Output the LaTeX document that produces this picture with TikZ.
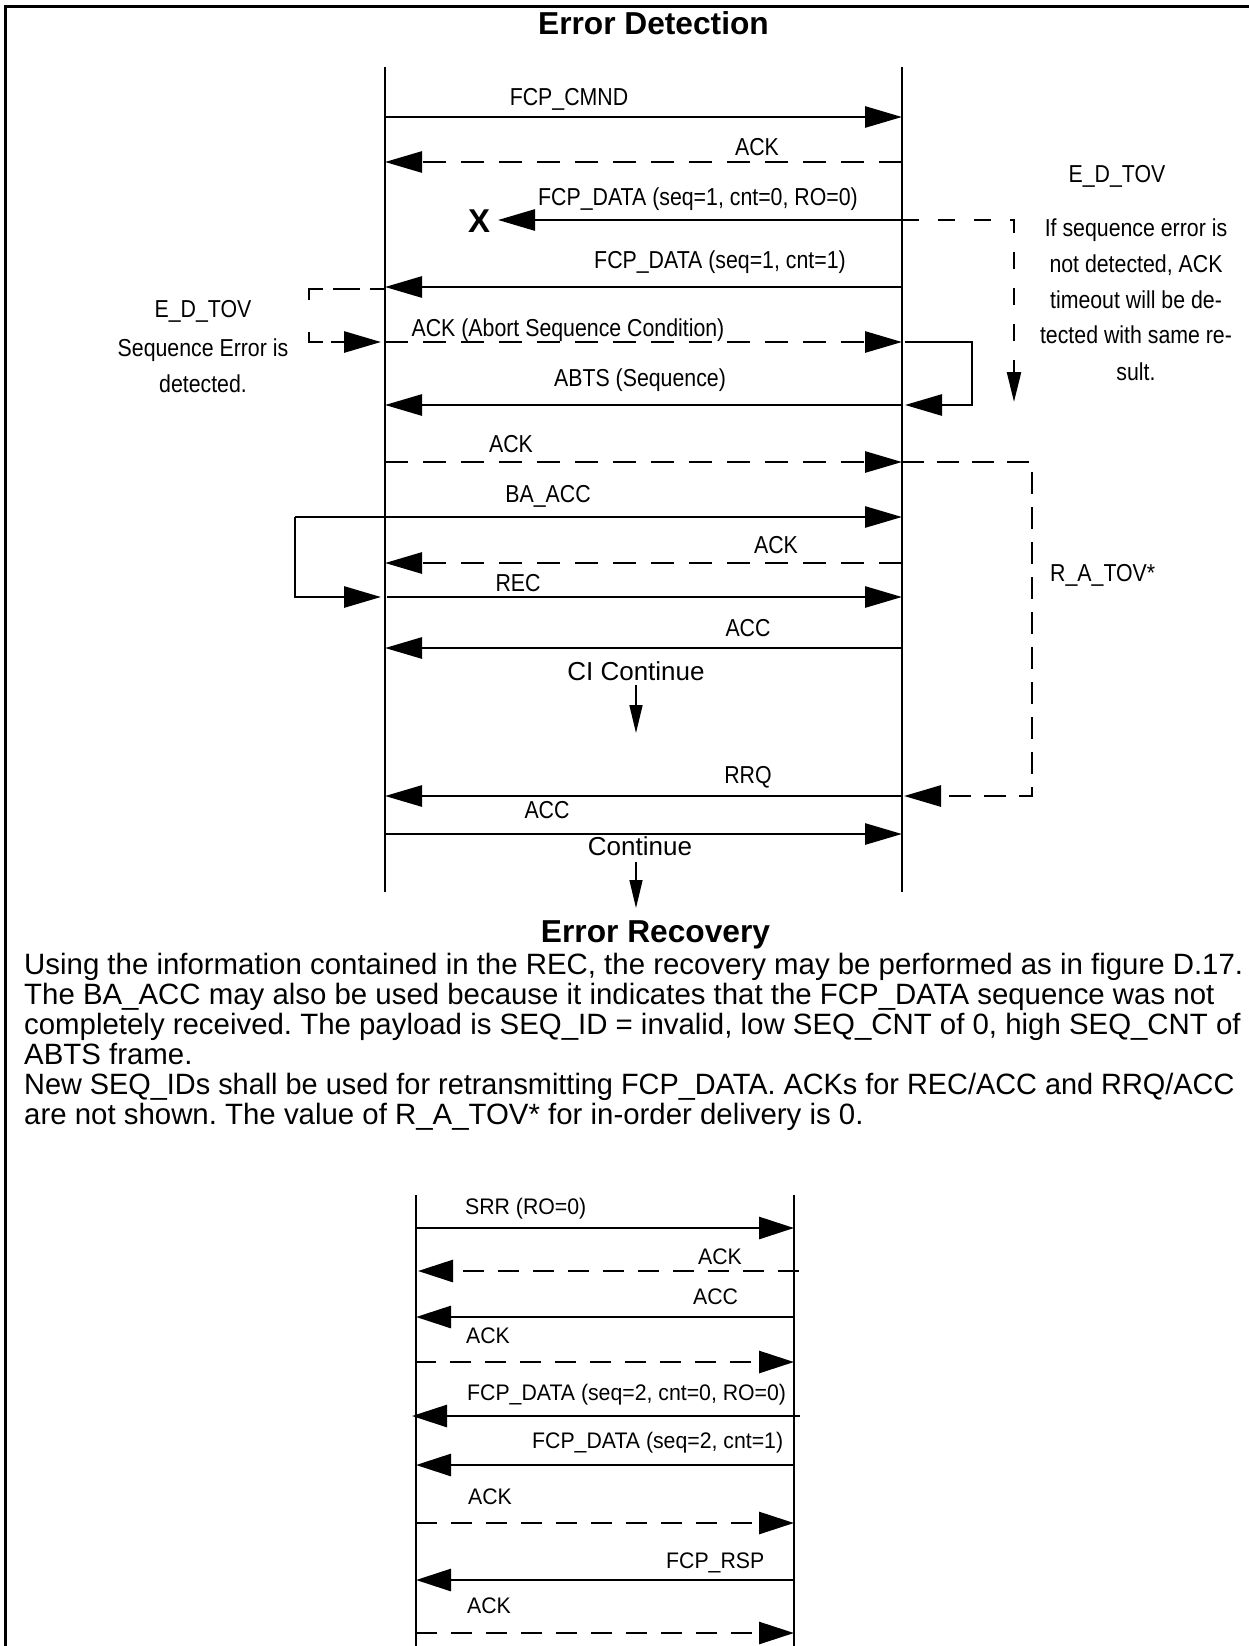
\documentclass[tikz,border=0pt]{standalone}
\usepackage{fontspec}
\setmainfont{Liberation Sans}
\newfontfamily\topfont[FakeStretch=0.87]{Liberation Sans}
\newfontfamily\lowfont[FakeStretch=0.945]{Liberation Sans}
\usetikzlibrary{arrows.meta}
\begin{document}
\frenchspacing
\begin{tikzpicture}[x=1pt,y=-1pt,
  lifeline/.style={line width=2pt},
  lifelinelow/.style={line width=2.8pt},
  msg/.style={line width=2.8pt,-{Triangle[length=37pt,width=21pt]}},
  dmsg/.style={msg,dash pattern=on 23pt off 15pt},
  loopmsg/.style={line width=2.8pt,line join=miter,-{Triangle[length=37pt,width=21pt]}},
  tmo/.style={line width=2.4pt,dash pattern=on 17pt off 19pt,-{Triangle[length=30pt,width=14pt]}},
  cont/.style={line width=1.5pt,-{Triangle[length=28pt,width=13pt]}},
  lmsg/.style={line width=2.8pt,-{Triangle[length=35pt,width=22pt]}},
  ldmsg/.style={lmsg,dash pattern=on 21pt off 14pt},
  lbl/.style={font=\topfont\fontsize{24.5}{29}\selectfont,inner sep=0pt,anchor=base},
  llbl/.style={font=\lowfont\fontsize{22.5}{27}\selectfont,inner sep=0pt,anchor=base west},
  ttl/.style={font=\bfseries\fontsize{31.7}{36}\selectfont,inner sep=0pt,anchor=base},
  para/.style={font=\fontsize{29.4}{30}\selectfont,inner sep=0pt,anchor=base west},
  contlbl/.style={font=\fontsize{26}{30}\selectfont,inner sep=0pt,anchor=base}]
\useasboundingbox (0,0) rectangle (1249,1646);
% frame
\coordinate (F0) at (5.3,1646);
\coordinate (F1) at (5.3,6.2);
\coordinate (F2) at (1249,6.2);
\draw[line width=2.7pt] (F0) -- (F1) -- (F2);

% titles
\node[ttl] (t1) at (653.5,35) {Error Detection};
\node[ttl] (t2) at (655.5,942) {Error Recovery};

% lifelines top
\coordinate (A0) at (385,67); \coordinate (A1) at (385,892);
\coordinate (B0) at (902,67); \coordinate (B1) at (902,892);
\draw[lifeline] (A0) -- (A1);
\draw[lifeline] (B0) -- (B1);

% message endpoints
\coordinate (a1) at (385,117); \coordinate (b1) at (902,117);
\coordinate (a2) at (385,162); \coordinate (b2) at (902,162);
\coordinate (x3) at (498,220); \coordinate (b3) at (902,220);
\coordinate (a4) at (385,287); \coordinate (b4) at (902,287);
\coordinate (a5) at (385,342); \coordinate (b5) at (902,342);
\coordinate (a6) at (385,405); \coordinate (b6) at (902,405);
\coordinate (a7) at (385,462); \coordinate (b7) at (902,462);
\coordinate (w8) at (295,517); \coordinate (b8) at (902,517);
\coordinate (a9) at (385,563); \coordinate (b9) at (902,563);
\coordinate (a10) at (387,597); \coordinate (b10) at (902,597);
\coordinate (a11) at (385,648); \coordinate (b11) at (902,648);
\coordinate (a13) at (385,796); \coordinate (b13) at (902,796);
\coordinate (a14) at (385,834); \coordinate (b14) at (902,834);

% messages
\draw[msg] (a1) -- (b1);
\node[lbl] (l1) at (569,105) {FCP\_CMND};
\draw[dmsg] (b2) -- (a2);
\node[lbl] (l2) at (757,155) {ACK};
\draw[msg] (b3) -- (x3);
\node[lbl] (l3) at (698,205) {FCP\_DATA (seq=1, cnt=0, RO=0)};
\node[font=\bfseries\fontsize{33}{33}\selectfont,inner sep=0pt] (X) at (479,221) {X};
\draw[msg] (b4) -- (a4);
\node[lbl] (l4) at (720,268) {FCP\_DATA (seq=1, cnt=1)};
\draw[dmsg] (a5) -- (b5);
\node[lbl] (l5) at (568,336) {ACK (Abort Sequence Condition)};
\draw[msg] (b6) -- (a6);
\node[lbl] (l6) at (640,386) {ABTS (Sequence)};
\draw[dmsg] (a7) -- (b7);
\node[lbl] (l7) at (511,452) {ACK};
\draw[msg] (w8) -- (b8);
\node[lbl] (l8) at (548,502) {BA\_ACC};
\coordinate (w8b) at (295,597);
\coordinate (a8b) at (381,597);
\draw[loopmsg] (w8) -- (w8b) -- (a8b);
\draw[dmsg] (b9) -- (a9);
\node[lbl] (l9) at (776,553) {ACK};
\draw[msg] (a10) -- (b10);
\node[lbl] (l10) at (518,591) {REC};
\draw[msg] (b11) -- (a11);
\node[lbl] (l11) at (748,636) {ACC};
\node[contlbl] (c1) at (636,680) {CI Continue};
\coordinate (c1a) at (636,685); \coordinate (c1b) at (636,733);
\draw[cont] (c1a) -- (c1b);
\draw[msg] (b13) -- (a13);
\node[lbl] (l13) at (748,783) {RRQ};
\draw[msg] (a14) -- (b14);
\node[lbl] (l14) at (547,818) {ACC};
\node[contlbl] (c2) at (640,855) {Continue};
\coordinate (c2a) at (636,862); \coordinate (c2b) at (636,908);
\draw[cont] (c2a) -- (c2b);

% right E_D_TOV timeout
\coordinate (r1) at (1014,220); \coordinate (r2) at (1014,402);
\draw[tmo] (b3) -- (r1) -- (r2);
\node[lbl] (rt0) at (1117,182) {E\_D\_TOV};
\node[lbl] (rt1) at (1136,236) {If sequence error is};
\node[lbl] (rt2) at (1136,272) {not detected, ACK};
\node[lbl] (rt3) at (1136,308) {timeout will be de-};
\node[lbl] (rt4) at (1136,343) {tected with same re-};
\node[lbl] (rt5) at (1136,380) {sult.};

% left E_D_TOV bracket
\coordinate (e1) at (385,289); \coordinate (e2) at (309,289);
\coordinate (e3) at (309,342); \coordinate (e4) at (381,342);
\draw[line width=2.8pt,line join=miter,dash pattern=on 15pt off 10pt on 27pt off 10pt on 25pt off 32pt on 24pt off 8pt on 40pt off 1pt,-{Triangle[length=37pt,width=21pt]}] (e1) -- (e2) -- (e3) -- (e4);
\node[lbl] (lt0) at (203,317) {E\_D\_TOV};
\node[lbl] (lt1) at (203,356) {Sequence Error is};
\node[lbl] (lt2) at (203,392) {detected.};

% abort loop on right
\coordinate (q1) at (905,342); \coordinate (q2) at (972,342);
\coordinate (q3) at (972,405); \coordinate (q4) at (905,405);
\draw[loopmsg] (q1) -- (q2) -- (q3) -- (q4);

% R_A_TOV
\coordinate (s1) at (1032,462); \coordinate (s2) at (1032,796);
\coordinate (s3) at (904,796);
\draw[line width=2.8pt,line join=miter,dash pattern=on 22pt off 13pt,-{Triangle[length=37pt,width=21pt]}] (b7) -- (s1) -- (s2) -- (s3);
\node[lbl,anchor=base west] (ra) at (1050,581) {R\_A\_TOV*};

% paragraph
\node[para] (p1) at (24,974) {Using the information contained in the REC, the recovery may be performed as in figure D.17.};
\node[para] (p2) at (24,1004) {The BA\_ACC may also be used because it indicates that the FCP\_DATA sequence was not};
\node[para] (p3) at (24,1034) {completely received. The payload is SEQ\_ID = invalid, low SEQ\_CNT of 0, high SEQ\_CNT of};
\node[para] (p4) at (24,1064) {ABTS frame.};
\node[para] (p5) at (24,1094) {\scalebox{0.982}[1]{New SEQ\_IDs shall be used for retransmitting FCP\_DATA. ACKs for REC/ACC and RRQ/ACC}};
\node[para] (p6) at (24,1124) {are not shown. The value of R\_A\_TOV* for in-order delivery is 0.};

% lower diagram
\coordinate (C0) at (416,1195); \coordinate (C1) at (416,1646);
\coordinate (D0) at (794,1195); \coordinate (D1) at (794,1646);
\draw[lifelinelow] (C0) -- (C1);
\draw[lifelinelow] (D0) -- (D1);

\coordinate (m1a) at (416,1228); \coordinate (m1b) at (794,1228);
\coordinate (m2a) at (418,1271); \coordinate (m2b) at (799,1271);
\coordinate (m3a) at (416,1317); \coordinate (m3b) at (794,1317);
\coordinate (m4a) at (415,1362); \coordinate (m4b) at (794,1362);
\coordinate (m5a) at (412,1416); \coordinate (m5b) at (800,1416);
\coordinate (m6a) at (416,1465); \coordinate (m6b) at (794,1465);
\coordinate (m7a) at (416,1523); \coordinate (m7b) at (794,1523);
\coordinate (m8a) at (416,1580); \coordinate (m8b) at (794,1580);
\coordinate (m9a) at (416,1633); \coordinate (m9b) at (794,1633);

\draw[lmsg] (m1a) -- (m1b);
\node[llbl] (n1) at (465,1214) {SRR (RO=0)};
\draw[ldmsg] (m2b) -- (m2a);
\node[llbl] (n2) at (698,1264) {ACK};
\draw[lmsg] (m3b) -- (m3a);
\node[llbl] (n3) at (693,1304) {ACC};
\draw[ldmsg] (m4a) -- (m4b);
\node[llbl] (n4) at (466,1343) {ACK};
\draw[lmsg] (m5b) -- (m5a);
\node[llbl] (n5) at (467,1400) {FCP\_DATA (seq=2, cnt=0, RO=0)};
\draw[lmsg] (m6b) -- (m6a);
\node[llbl] (n6) at (532,1448) {FCP\_DATA (seq=2, cnt=1)};
\draw[ldmsg] (m7a) -- (m7b);
\node[llbl] (n7) at (468,1504) {ACK};
\draw[lmsg] (m8b) -- (m8a);
\node[llbl] (n8) at (666,1568) {FCP\_RSP};
\draw[ldmsg] (m9a) -- (m9b);
\node[llbl] (n9) at (467,1613) {ACK};
\end{tikzpicture}
\end{document}
